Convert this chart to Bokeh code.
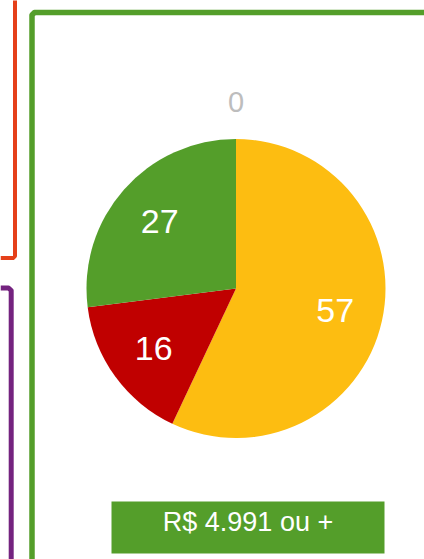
import math
from bokeh.plotting import figure
from bokeh.models import Range1d, ColumnDataSource
from bokeh.embed import file_html
from bokeh.resources import INLINE
from bokeh.core.properties import value

# ---- data ----
categories = ["Acima", "Intermediário", "Abaixo", "Sem resposta"]
values = [57, 16, 27, 0]
slice_colors = ["#FDBD11", "#C00000", "#549E2A", "#BDBDBD"]
button_label = "R$ 4.991 ou +"

# ---- styles ----
GREEN = "#549E2A"
ORANGE = "#E5401A"
PURPLE = "#74237F"
FONT = "Liberation Sans"

PAGE_W, PAGE_H = 424, 559


def py(y):  # page y (pixels from top) -> data y
    return PAGE_H - y


p = figure(width=PAGE_W, height=PAGE_H, x_range=Range1d(0, PAGE_W),
           y_range=Range1d(0, PAGE_H),
           output_backend="svg", toolbar_location=None, min_border=0)
p.axis.visible = False
p.grid.visible = False
p.outline_line_color = None
p.background_fill_color = "white"

# neighbouring card borders
p.line([0, 12.5, 14.5, 14.5], [py(257.5), py(257.5), py(255.5), py(-5)],
       line_color=ORANGE, line_width=4, line_join="round")
p.line([0, 8, 10.7, 10.7], [py(287.5), py(287.5), py(290), py(600)],
       line_color=PURPLE, line_width=5, line_join="round")
p.line([31.5, 31.5, 34, 440], [py(600), py(14.5), py(12), py(12)],
       line_color=GREEN, line_width=5.5, line_join="round")

# ---- pie ----
cx, cy, r = 235.5, py(288), 149.5
total = sum(values)
starts, ends, mids = [], [], []
acc = 0.0
for v in values:
    a0 = math.pi / 2 - 2 * math.pi * acc / total
    acc += v
    a1 = math.pi / 2 - 2 * math.pi * acc / total
    starts.append(a0)
    ends.append(a1)
    mids.append((a0 + a1) / 2)

nz = [i for i, v in enumerate(values) if v > 0]
src = ColumnDataSource(dict(
    start=[starts[i] for i in nz], end=[ends[i] for i in nz],
    color=[slice_colors[i] for i in nz]))
p.wedge(x=cx, y=cy, radius=r, start_angle="start", end_angle="end",
        direction="clock", fill_color="color", line_color=None, source=src)

lx, ly, lt, lc, lsize = [], [], [], [], []
for i, v in enumerate(values):
    f = 0.68 if v > 0 else 1.25
    lx.append(cx + f * r * math.cos(mids[i]))
    ly.append(cy + f * r * math.sin(mids[i]))
    lt.append(str(v))
    lc.append("white" if v > 0 else "#BDBDBD")
    lsize.append("34px" if v > 0 else "29px")
lsrc = ColumnDataSource(dict(x=lx, y=ly, t=lt, c=lc, s=lsize))
p.text(x="x", y="y", text="t", text_color="c", text_font_size="s",
       text_font=value(FONT), text_align="center", text_baseline="middle",
       source=lsrc)

# ---- button ----
p.quad(left=111, right=384, top=py(501), bottom=py(553),
       fill_color=GREEN, line_color=None)
p.text(x=[247.5], y=[py(521.5)], text=[button_label], text_color="white",
       text_font_size="27px", text_font=value(FONT), text_align="center",
       text_baseline="middle")

open("out.html", "w").write(file_html(p, INLINE))
